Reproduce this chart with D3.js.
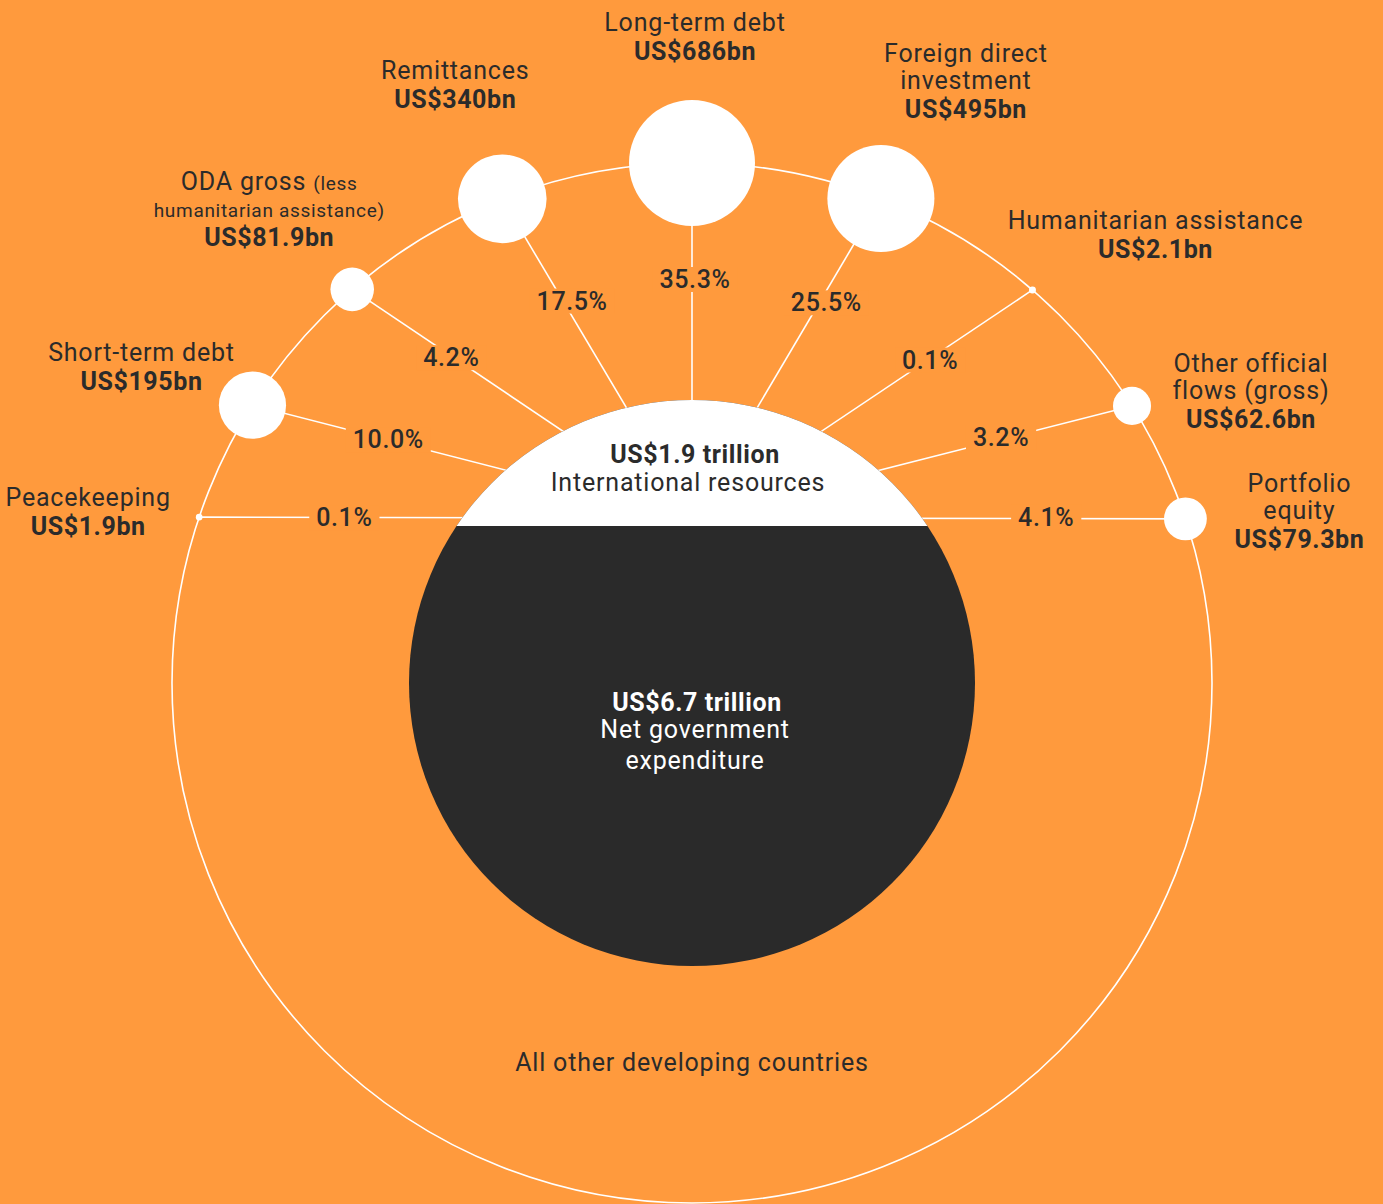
<!DOCTYPE html>
<html><head><meta charset="utf-8">
<script src="https://cdn.jsdelivr.net/npm/d3@7"></script>
<style>
html,body{margin:0;padding:0;background:#FF9A3D;}
svg{display:block}
text{font-family:Roboto,"DejaVu Sans",sans-serif;}
</style>
</head><body>
<svg id="chart" width="1383" height="1204"></svg>
<script>
// ---------------- DATA ----------------
// Flow names (lines; text in {} is set smaller)
const flowNames = [
  ["Peacekeeping"],
  ["Short-term debt"],
  ["ODA gross {(less}", "{humanitarian assistance)}"],
  ["Remittances"],
  ["Long-term debt"],
  ["Foreign direct", "investment"],
  ["Humanitarian assistance"],
  ["Other official", "flows (gross)"],
  ["Portfolio", "equity"]
];
// US$ billions
const flowValues = [1.9, 195, 81.9, 340, 686, 495, 2.1, 62.6, 79.3];
const flowValueLabels = ["US$1.9bn","US$195bn","US$81.9bn","US$340bn","US$686bn","US$495bn","US$2.1bn","US$62.6bn","US$79.3bn"];
const centreValues = ["US$1.9 trillion", "US$6.7 trillion"];
const centreLabels = [["International resources"], ["Net government", "expenditure"]];
const outerLabel = "All other developing countries";

// ---------------- LAYOUT ----------------
const W = 1383, H = 1204;
const cx = 692, cy = 683;
const outerR = 520, innerR = 283;
const capChordY = 526;
const hub = [692, 518];
const slotAngles = [161.4, 147.7, 130.8, 111.4, 90, 68.7, 49.1, 32.2, 18.4];
const labelOffsets = [[-111,18],[-111,-15],[-83,-43],[-47,-91],[3,-103],[85,-81],[123,-32],[119,22],[114,29]];
const shareNudge = [[2,0],[-1,-1],[-12,-7],[7,-4],[3,-1],[8,-2],[9,-5],[6,-4],[4,-2]];
const orange = "#FF9A3D", dark = "#2A2A2A", ink = "#2B2B2B";

const svg = d3.select("#chart");
svg.append("rect").attr("width", W).attr("height", H).attr("fill", orange);

const rScale = d3.scaleSqrt().domain([0, d3.max(flowValues)]).range([0, 63]);
const total = d3.sum(flowValues);
const pct = d3.format(".1%");

const flows = flowValues.map((v, i) => {
  const a = slotAngles[i] * Math.PI / 180;
  const bx = cx + outerR * Math.cos(a), by = cy - outerR * Math.sin(a);
  return {i, v, bx, by, r: rScale(v), name: flowNames[i], valueLabel: flowValueLabels[i], share: pct(v / total)};
});

// outer ring
svg.append("circle").attr("cx", cx).attr("cy", cy).attr("r", outerR)
  .attr("fill", "none").attr("stroke", "#fff").attr("stroke-width", 1.6);

// spokes
svg.append("g").selectAll("line").data(flows).join("line")
  .attr("x1", hub[0]).attr("y1", hub[1])
  .attr("x2", d => d.bx).attr("y2", d => d.by)
  .attr("stroke", "#fff").attr("stroke-width", 1.6);

// central circle
svg.append("circle").attr("cx", cx).attr("cy", cy).attr("r", innerR).attr("fill", dark);
svg.append("clipPath").attr("id", "capClip").append("rect")
  .attr("x", 0).attr("y", 0).attr("width", W).attr("height", capChordY);
svg.append("circle").attr("cx", cx).attr("cy", cy).attr("r", innerR)
  .attr("fill", "#fff").attr("clip-path", "url(#capClip)");

// bubbles
svg.append("g").selectAll("circle").data(flows).join("circle")
  .attr("cx", d => d.bx).attr("cy", d => d.by).attr("r", d => Math.max(d.r, 3))
  .attr("fill", "#fff");

// percentage labels, ~120px beyond the cap edge along each spoke
const pg = svg.append("g");
flows.forEach(d => {
  let ux = d.bx - hub[0], uy = d.by - hub[1];
  const L = Math.hypot(ux, uy); ux /= L; uy /= L;
  const ox = hub[0] - cx, oy = hub[1] - cy;
  const b = ox * ux + oy * uy, c = ox * ox + oy * oy - innerR * innerR;
  const s = -b + Math.sqrt(b * b - c);
  const px = hub[0] + ux * (s + 120) + shareNudge[d.i][0], py = hub[1] + uy * (s + 120) + shareNudge[d.i][1];
  const g = pg.append("g");
  const t = g.append("text").attr("x", px).attr("y", py).attr("dy", "0.36em")
    .attr("text-anchor", "middle").attr("font-size", 25).attr("font-weight", 500)
    .attr("letter-spacing", 0.6).attr("fill", ink).text(d.share);
  const bb = t.node().getBBox();
  g.insert("rect", "text").attr("x", bb.x - 7).attr("y", bb.y + 2).attr("width", bb.width + 14)
    .attr("height", bb.height - 4).attr("fill", orange);
});

// flow labels
function addLine(sel, str) {
  str.split(/(\{[^}]*\})/).filter(s => s.length).forEach(part => {
    if (part[0] === "{") sel.append("tspan").attr("font-size", 19).attr("letter-spacing", 0.7).text(part.slice(1, -1));
    else sel.append("tspan").text(part);
  });
}
const lg = svg.append("g");
flows.forEach(d => {
  const [dx, dy] = labelOffsets[d.i];
  const x = d.bx + dx, yv = d.by + dy;
  const n = d.name.length;
  d.name.forEach((line, k) => {
    const t = lg.append("text").attr("x", x).attr("y", yv - 29 - (n - 1 - k) * 27)
      .attr("text-anchor", "middle").attr("font-size", 25).attr("font-weight", 400)
      .attr("letter-spacing", 0.8).attr("fill", ink);
    addLine(t, line);
  });
  lg.append("text").attr("x", x).attr("y", yv).attr("text-anchor", "middle")
    .attr("font-size", 25).attr("font-weight", 700).attr("letter-spacing", 0.6)
    .attr("fill", ink).text(d.valueLabel);
});

// centre texts
svg.append("text").attr("x", 695).attr("y", 463).attr("text-anchor", "middle")
  .attr("font-size", 25).attr("font-weight", 700).attr("letter-spacing", 0.6).attr("fill", ink).text(centreValues[0]);
centreLabels[0].forEach((l, k) => svg.append("text").attr("x", 688).attr("y", 491 + k * 28)
  .attr("text-anchor", "middle").attr("font-size", 25).attr("letter-spacing", 0.8).attr("fill", ink).text(l));

svg.append("text").attr("x", 697).attr("y", 711).attr("text-anchor", "middle")
  .attr("font-size", 25).attr("font-weight", 700).attr("letter-spacing", 0.6).attr("fill", "#fff").text(centreValues[1]);
centreLabels[1].forEach((l, k) => svg.append("text").attr("x", 695).attr("y", 738 + k * 31)
  .attr("text-anchor", "middle").attr("font-size", 25).attr("letter-spacing", 0.8).attr("fill", "#fff").text(l));

svg.append("text").attr("x", 692).attr("y", 1071).attr("text-anchor", "middle")
  .attr("font-size", 25).attr("letter-spacing", 0.8).attr("fill", ink).text(outerLabel);
</script>
</body></html>
